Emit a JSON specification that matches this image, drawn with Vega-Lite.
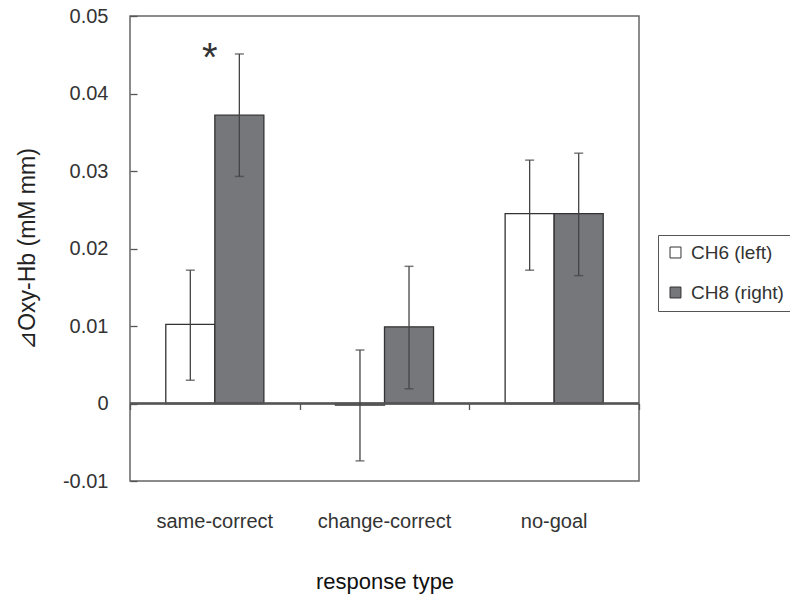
{
  "$schema": "https://vega.github.io/schema/vega-lite/v6.json",
  "width": 509,
  "height": 465,
  "autosize": {"type": "none"},
  "padding": {"left": 130, "top": 16, "right": 151, "bottom": 116},
  "background": "white",
  "config": {
    "font": "Liberation Sans",
    "view": {"stroke": "#666", "strokeWidth": 1.5}
  },
  "datasets": {
    "bars": [
      {"type": "same-correct", "channel": "CH6 (left)", "value": 0.0102, "lo": 0.0030, "hi": 0.0172},
      {"type": "same-correct", "channel": "CH8 (right)", "value": 0.0372, "lo": 0.0293, "hi": 0.0451},
      {"type": "change-correct", "channel": "CH6 (left)", "value": -0.0002, "lo": -0.0074, "hi": 0.0069},
      {"type": "change-correct", "channel": "CH8 (right)", "value": 0.0099, "lo": 0.0019, "hi": 0.0177},
      {"type": "no-goal", "channel": "CH6 (left)", "value": 0.0245, "lo": 0.0172, "hi": 0.0314},
      {"type": "no-goal", "channel": "CH8 (right)", "value": 0.0245, "lo": 0.0165, "hi": 0.0323}
    ],
    "star": [
      {"type": "same-correct", "label": "*"}
    ]
  },
  "resolve": {"axis": {"x": "independent"}},
  "layer": [
    {
      "data": {"name": "bars"},
      "mark": {"type": "bar", "stroke": "#333", "strokeWidth": 1.3},
      "encoding": {
        "x": {
          "field": "type", "type": "nominal",
          "sort": ["same-correct", "change-correct", "no-goal"],
          "scale": {"paddingInner": 0, "paddingOuter": 0},
          "axis": {
            "title": "response type",
            "titleFontSize": 22,
            "titleFontWeight": "normal",
            "titleColor": "#111",
            "titlePadding": 40,
            "labelFontSize": 20,
            "labelColor": "#333",
            "labelPadding": 30,
            "labelAngle": 0,
            "ticks": false,
            "domain": false
          }
        },
        "xOffset": {
          "field": "channel", "type": "nominal",
          "sort": ["CH6 (left)", "CH8 (right)"],
          "scale": {"paddingInner": 0, "paddingOuter": 0.73}
        },
        "y": {
          "field": "value", "type": "quantitative",
          "scale": {"domain": [-0.01, 0.05], "nice": false, "zero": false},
          "axis": {
            "title": "⊿Oxy-Hb (mM mm)",
            "titleFontSize": 23,
            "titleFontWeight": "normal",
            "titleColor": "#222",
            "titleX": -103,
            "titleBaseline": "middle",
            "values": [-0.01, 0, 0.01, 0.02, 0.03, 0.04, 0.05],
            "labelExpr": "datum.value == 0 ? '0' : replace(format(datum.value, '.2f'), '−', '-')",
            "labelFontSize": 20,
            "labelColor": "#333",
            "tickSize": -7,
            "tickColor": "#555",
            "tickWidth": 1.3,
            "labelPadding": 29,
            "domain": false,
            "grid": false
          }
        },
        "color": {
          "field": "channel", "type": "nominal",
          "scale": {"domain": ["CH6 (left)", "CH8 (right)"], "range": ["#ffffff", "#76777b"]},
          "legend": {
            "title": null,
            "orient": "none",
            "legendX": 528,
            "legendY": 219,
            "strokeColor": "#555",
            "padding": 8,
            "symbolType": "square",
            "symbolSize": 120,
            "symbolStrokeColor": "#333",
            "symbolStrokeWidth": 1,
            "labelFontSize": 19,
            "labelColor": "#333",
            "rowPadding": 20,
            "labelOffset": 6
          }
        }
      }
    },
    {
      "data": {"name": "bars"},
      "mark": {"type": "rule", "color": "#555", "strokeWidth": 1.3},
      "encoding": {
        "y": {"datum": 0, "type": "quantitative"}
      }
    },
    {
      "data": {"name": "bars"},
      "mark": {"type": "rule", "color": "#444", "strokeWidth": 1.3},
      "encoding": {
        "x": {
          "field": "type", "type": "nominal",
          "sort": ["same-correct", "change-correct", "no-goal"],
          "axis": {
            "orient": "bottom",
            "offset": -77.5,
            "tickBand": "extent",
            "ticks": true,
            "tickSize": 6,
            "tickColor": "#555",
            "tickWidth": 1.3,
            "labels": false,
            "domain": false,
            "title": null
          }
        },
        "xOffset": {"field": "channel", "type": "nominal", "sort": ["CH6 (left)", "CH8 (right)"]},
        "y": {"field": "lo", "type": "quantitative"},
        "y2": {"field": "hi"}
      }
    },
    {
      "data": {"name": "bars"},
      "mark": {"type": "tick", "color": "#444", "thickness": 1.5, "size": 9, "orient": "horizontal"},
      "encoding": {
        "x": {"field": "type", "type": "nominal", "sort": ["same-correct", "change-correct", "no-goal"], "axis": null},
        "xOffset": {"field": "channel", "type": "nominal", "sort": ["CH6 (left)", "CH8 (right)"]},
        "y": {"field": "lo", "type": "quantitative"}
      }
    },
    {
      "data": {"name": "bars"},
      "mark": {"type": "tick", "color": "#444", "thickness": 1.5, "size": 9, "orient": "horizontal"},
      "encoding": {
        "x": {"field": "type", "type": "nominal", "sort": ["same-correct", "change-correct", "no-goal"], "axis": null},
        "xOffset": {"field": "channel", "type": "nominal", "sort": ["CH6 (left)", "CH8 (right)"]},
        "y": {"field": "hi", "type": "quantitative"}
      }
    },
    {
      "data": {"name": "star"},
      "mark": {"type": "text", "fontSize": 40, "color": "#333", "baseline": "top", "dx": -5},
      "encoding": {
        "x": {"field": "type", "type": "nominal", "sort": ["same-correct", "change-correct", "no-goal"], "axis": null},
        "y": {"datum": 0.0470, "type": "quantitative"},
        "text": {"field": "label"}
      }
    }
  ]
}
